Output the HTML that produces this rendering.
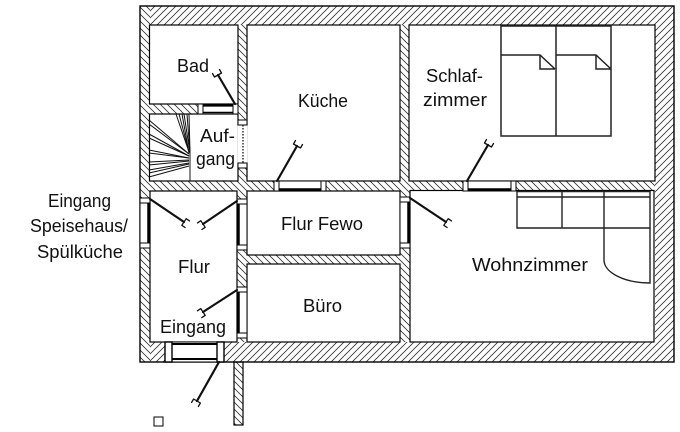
<!DOCTYPE html>
<html><head><meta charset="utf-8"><style>
html,body{margin:0;padding:0;background:#fff;}
svg{display:block;}
text{font-family:"Liberation Sans",Arial,sans-serif;font-size:18px;fill:#111;}
</style></head><body>
<svg width="680" height="432" viewBox="0 0 680 432" xmlns="http://www.w3.org/2000/svg">
<defs>
<pattern id="hA" patternUnits="userSpaceOnUse" width="7" height="7">
<path d="M-1,1 L1,-1 M0,7 L7,0 M6,8 L8,6" stroke="#333" stroke-width="0.8"/>
</pattern>
<pattern id="hB" patternUnits="userSpaceOnUse" width="7" height="7">
<path d="M-1,6 L1,8 M0,0 L7,7 M6,-1 L8,1" stroke="#333" stroke-width="0.8"/>
</pattern>
</defs>
<rect width="680" height="432" fill="#fff"/>
<!-- building hatch -->
<g fill="url(#hA)">
<rect x="150" y="6" width="524" height="19"/>
<rect x="655" y="25" width="19" height="337"/>
<rect x="150" y="342" width="505" height="20"/>
</g>
<g fill="url(#hB)">
<rect x="140" y="6" width="10" height="356"/>
<rect x="238" y="25" width="9" height="156"/>
<rect x="150" y="104" width="88" height="10"/>
<rect x="150" y="181" width="505" height="10"/>
<rect x="400" y="25" width="9" height="156"/>
<rect x="237" y="191" width="10" height="151"/>
<rect x="247" y="255" width="153" height="9"/>
<rect x="400" y="191" width="10" height="151"/>
</g>
<rect x="140" y="6" width="534" height="356" fill="none" stroke="#000" stroke-width="1.4"/>
<!-- stub below -->
<rect x="234" y="362" width="9" height="63" fill="url(#hB)" stroke="#000" stroke-width="1.2"/>
<rect x="154" y="417" width="9" height="9" fill="#fff" stroke="#000" stroke-width="1"/>
<!-- rooms -->
<g fill="#fff" stroke="#000" stroke-width="1.2">
<rect x="149.5" y="25" width="88.5" height="79"/>
<rect x="149.5" y="114" width="88.5" height="67"/>
<rect x="247" y="25" width="153" height="156"/>
<rect x="409" y="25" width="246" height="156"/>
<rect x="150" y="191" width="87" height="151"/>
<rect x="247" y="191" width="153" height="64"/>
<rect x="247" y="264" width="153" height="78"/>
<rect x="410" y="190.5" width="244" height="151.5"/>
</g>
<!-- Aufgang opening -->
<rect x="237.5" y="121" width="10" height="46" fill="#fff"/>
<rect x="238" y="120" width="9" height="5" fill="#fff" stroke="#000" stroke-width="1"/>
<rect x="238" y="163" width="9" height="5" fill="#fff" stroke="#000" stroke-width="1"/>
<line x1="243" y1="125" x2="243" y2="163" stroke="#000" stroke-width="1.2" stroke-dasharray="1.5,1.5"/>
<!-- stairs -->
<g stroke="#111" stroke-width="1">
<line x1="190" y1="152" x2="190" y2="181"/>
<line x1="176" y1="114" x2="189" y2="152"/>
<line x1="179" y1="114" x2="189" y2="152"/>
<line x1="182" y1="114" x2="189" y2="153"/>
<line x1="184" y1="114" x2="190" y2="153"/>
<line x1="187" y1="114" x2="190" y2="153"/>
<line x1="189" y1="114" x2="190" y2="152"/>
<line x1="149" y1="120" x2="189" y2="154"/>
<line x1="149" y1="124" x2="189" y2="154"/>
<line x1="149" y1="134" x2="189" y2="156"/>
<line x1="149" y1="138" x2="189" y2="156"/>
<line x1="149" y1="150" x2="189" y2="158"/>
<line x1="149" y1="153" x2="189" y2="158"/>
<line x1="149" y1="162" x2="189" y2="160"/>
<line x1="149" y1="165" x2="189" y2="161"/>
<line x1="149" y1="170" x2="189" y2="163"/>
<line x1="149" y1="173" x2="189" y2="164"/>
<line x1="149" y1="177" x2="189" y2="166"/>
</g>
<!-- doors -->
<g stroke="#000" fill="#fff">
<rect x="198" y="104" width="40" height="10" stroke-width="1"/>
<line x1="203" y1="104" x2="203" y2="114" stroke-width="1"/>
<line x1="233" y1="104" x2="233" y2="114" stroke-width="1"/>
<line x1="203" y1="105.5" x2="233" y2="105.5" stroke-width="2.2"/>
<line x1="203" y1="112.5" x2="233" y2="112.5" stroke-width="1.6"/>

<rect x="274" y="181" width="52" height="10" stroke-width="1"/>
<line x1="279" y1="181" x2="279" y2="191" stroke-width="1"/>
<line x1="321" y1="181" x2="321" y2="191" stroke-width="1"/>
<line x1="279" y1="189.5" x2="321" y2="189.5" stroke-width="2.5"/>

<rect x="463" y="181" width="53" height="10" stroke-width="1"/>
<line x1="468" y1="181" x2="468" y2="191" stroke-width="1"/>
<line x1="511" y1="181" x2="511" y2="191" stroke-width="1"/>
<line x1="468" y1="189.5" x2="511" y2="189.5" stroke-width="2.5"/>

<rect x="140" y="198" width="10" height="50" stroke-width="1"/>
<line x1="140" y1="203" x2="150" y2="203" stroke-width="1"/>
<line x1="140" y1="243" x2="150" y2="243" stroke-width="1"/>
<line x1="148.5" y1="203" x2="148.5" y2="243" stroke-width="2.5"/>

<rect x="237" y="199" width="10" height="51" stroke-width="1"/>
<line x1="237" y1="204" x2="247" y2="204" stroke-width="1"/>
<line x1="237" y1="245" x2="247" y2="245" stroke-width="1"/>
<line x1="238.5" y1="204" x2="238.5" y2="245" stroke-width="2.5"/>

<rect x="237" y="287" width="10" height="51" stroke-width="1"/>
<line x1="237" y1="292" x2="247" y2="292" stroke-width="1"/>
<line x1="237" y1="333" x2="247" y2="333" stroke-width="1"/>
<line x1="238.5" y1="292" x2="238.5" y2="333" stroke-width="2.5"/>

<rect x="400" y="197" width="10" height="51" stroke-width="1"/>
<line x1="400" y1="202" x2="410" y2="202" stroke-width="1"/>
<line x1="400" y1="243" x2="410" y2="243" stroke-width="1"/>
<line x1="408.5" y1="202" x2="408.5" y2="243" stroke-width="2.5"/>

<rect x="165" y="342" width="59" height="20" stroke-width="1"/>
<rect x="165" y="342" width="7" height="20" stroke-width="1.4"/>
<rect x="217" y="342" width="7" height="20" stroke-width="1.4"/>
<line x1="172" y1="344" x2="217" y2="344" stroke-width="2"/>
<line x1="172" y1="359" x2="217" y2="359" stroke-width="2"/>
</g>
<!-- door swing markers -->
<g stroke="#111" stroke-width="2.2" fill="none" stroke-linecap="round">
<line x1="235" y1="104" x2="218" y2="75"/>
<path d="M221.5,73 L214.5,77 M221.5,73 l-2,-3.5 M214.5,77 l-2,-3.5" stroke-width="1.3"/>
<line x1="277" y1="181" x2="297" y2="146"/>
<path d="M300.5,148 L293.5,144 M300.5,148 l2,-3.5 M293.5,144 l2,-3.5" stroke-width="1.3"/>
<line x1="467" y1="181" x2="488" y2="145"/>
<path d="M491.5,147 L484.5,143 M491.5,147 l2,-3.5 M484.5,143 l2,-3.5" stroke-width="1.3"/>
<line x1="150" y1="199" x2="184" y2="222"/>
<path d="M181.8,225.3 L186.2,218.7 M181.8,225.3 l3.3,2.2 M186.2,218.7 l3.3,2.2" stroke-width="1.3"/>
<line x1="237" y1="201" x2="203" y2="224"/>
<path d="M205.2,227.3 L200.8,220.7 M205.2,227.3 l-3.3,2.2 M200.8,220.7 l-3.3,2.2" stroke-width="1.3"/>
<line x1="237" y1="290" x2="203" y2="312"/>
<path d="M205.2,315.4 L200.8,308.6 M205.2,315.4 l-3.4,2.2 M200.8,308.6 l-3.4,2.2" stroke-width="1.3"/>
<line x1="410" y1="198" x2="446" y2="222"/>
<path d="M443.8,225.3 L448.2,218.7 M443.8,225.3 l3.3,2.2 M448.2,218.7 l3.3,2.2" stroke-width="1.3"/>
<line x1="219" y1="362" x2="197" y2="401"/>
<path d="M200.4,403 L193.6,399 M200.4,403 l-2,3.4 M193.6,399 l-2,3.4" stroke-width="1.3"/>
</g>
<!-- bed -->
<g stroke="#222" stroke-width="1.5" fill="none">
<rect x="501" y="26" width="110" height="110" fill="#fff"/>
<line x1="556" y1="26" x2="556" y2="136"/>
<path d="M501,55 L540,55 L555,69 M540,55 L540,69 L555,69"/>
<path d="M556,55 L596,55 L611,69 M596,55 L596,69 L611,69"/>
</g>
<!-- sofa -->
<g stroke="#222" stroke-width="1.4" fill="none">
<path d="M517,191 L517,228 L650,228"/>
<line x1="517" y1="197" x2="650" y2="197"/>
<line x1="562" y1="191" x2="562" y2="228"/>
<line x1="604" y1="191" x2="604" y2="260"/>
<path d="M604,260 A46,23 0 0 0 650,283 L650,191"/>
<line x1="517" y1="191.5" x2="650" y2="191.5"/>
</g>
<!-- labels -->
<text x="177" y="72" textLength="32" lengthAdjust="spacingAndGlyphs">Bad</text>
<text x="298" y="107" textLength="50" lengthAdjust="spacingAndGlyphs">Küche</text>
<text x="426" y="82" textLength="57" lengthAdjust="spacingAndGlyphs">Schlaf-</text>
<text x="423" y="106" textLength="64" lengthAdjust="spacingAndGlyphs">zimmer</text>
<text x="200" y="142" textLength="35" lengthAdjust="spacingAndGlyphs">Auf-</text>
<text x="196" y="165" textLength="39" lengthAdjust="spacingAndGlyphs">gang</text>
<text x="281" y="230" textLength="82" lengthAdjust="spacingAndGlyphs">Flur Fewo</text>
<text x="178" y="273" textLength="32" lengthAdjust="spacingAndGlyphs">Flur</text>
<text x="303" y="312" textLength="39" lengthAdjust="spacingAndGlyphs">Büro</text>
<text x="160" y="333" textLength="66" lengthAdjust="spacingAndGlyphs">Eingang</text>
<text x="472" y="271" textLength="116" lengthAdjust="spacingAndGlyphs">Wohnzimmer</text>
<text x="48" y="207" textLength="63" lengthAdjust="spacingAndGlyphs">Eingang</text>
<text x="30" y="232" textLength="98" lengthAdjust="spacingAndGlyphs">Speisehaus/</text>
<text x="37" y="258" textLength="86" lengthAdjust="spacingAndGlyphs">Spülküche</text>
</svg>
</body></html>
